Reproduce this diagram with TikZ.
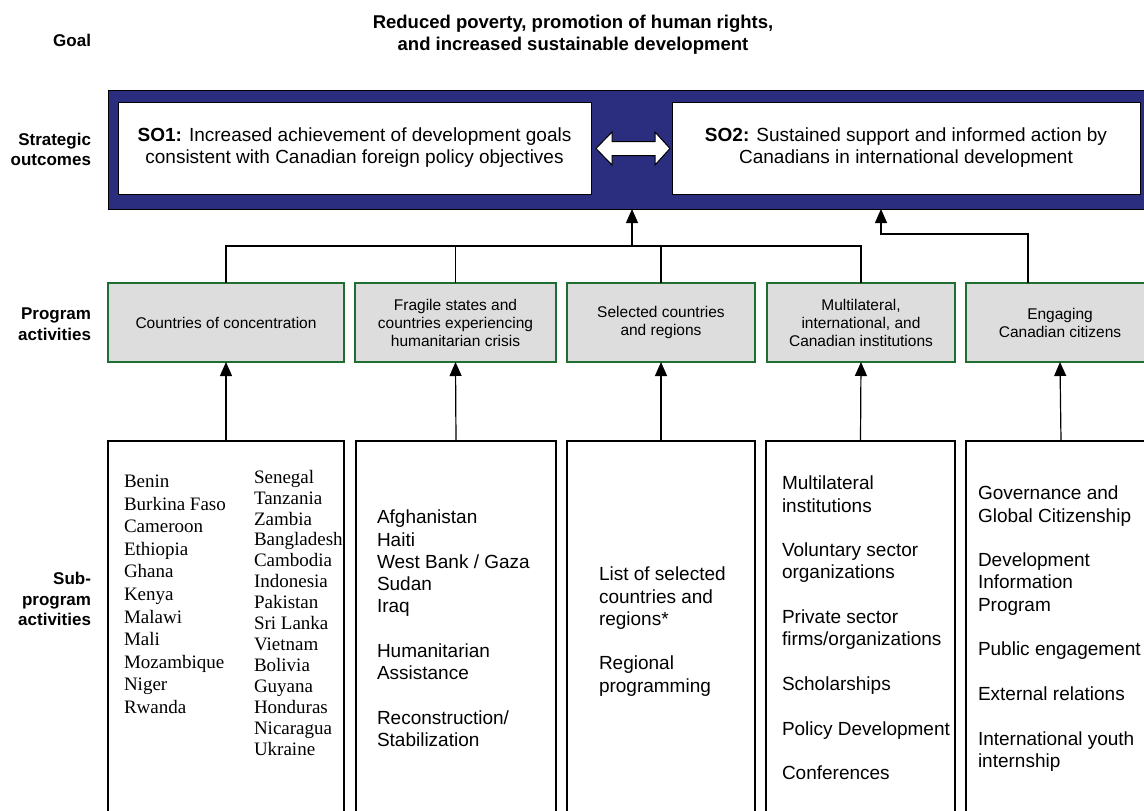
\documentclass[tikz,border=0pt]{standalone}
\usepackage{fontspec}
\setmainfont{Liberation Sans}
\newfontfamily\timesfont{Liberation Serif}
\usetikzlibrary{arrows.meta,calc}
\definecolor{bandblue}{RGB}{43,46,126}
\definecolor{boxgreen}{RGB}{30,110,50}
\definecolor{boxgray}{RGB}{221,221,221}

\begin{document}
\begin{tikzpicture}[x=1pt,y=-1pt,
  every node/.style={inner sep=0pt, outer sep=0pt},
  lbl/.style={font=\fontsize{17}{20.5}\selectfont\bfseries, align=right, anchor=east},
  sobox/.style={draw=black, line width=1pt, fill=white, align=center,
    font=\fontsize{19}{22}\selectfont, minimum height=92pt},
  pabox/.style={draw=boxgreen, line width=1.2pt, fill=boxgray, align=center,
    font=\fontsize{15.5}{18}\selectfont, minimum height=79pt},
  spbox/.style={draw=black, line width=1.2pt, fill=white, minimum height=400pt},
  sptext/.style={align=left, anchor=north west, font=\fontsize{19}{22.3}\selectfont},
  cntext/.style={align=left, anchor=north west, font=\timesfont\fontsize{19}{22.6}\selectfont},
  link/.style={line width=1.2pt},
  arr/.style={link, -{Triangle[length=14pt,width=12pt]}},
]
\path[use as bounding box] (0,0) rectangle (1144,811);
\clip (0,0) rectangle (1144,811);

% goal
\node[font=\fontsize{18.5}{22}\selectfont\bfseries, align=center] (goal) at (573,35)
  {Reduced poverty, promotion of human rights,\\and increased sustainable development};

% row labels
\node[lbl] (lgoal) at (91,40) {Goal};
\node[lbl] (lso) at (91,149.5) {Strategic\\outcomes};
\node[lbl] (lpa) at (91,324) {Program\\activities};
\node[lbl] (lsp) at (91,599) {Sub-\\program\\activities};

% strategic outcomes band
\node[draw=black, line width=1pt, fill=bandblue, minimum width=1072pt, minimum height=119pt]
  (band) at (644,149.5) {};
\node[sobox, minimum width=473pt] (so1) at (354.5,148)
  {\textbf{SO1:} Increased achievement of development goals\\consistent with Canadian foreign policy objectives};
\node[sobox, minimum width=468pt] (so2) at (906,148)
  {\textbf{SO2:} Sustained support and informed action by\\Canadians in international development};
\draw[line width=1pt, fill=white] (596,148.5) -- (612,132) -- (612,141.5) -- (655,141.5) -- (655,132)
  -- (670,148.5) -- (655,165) -- (655,155.5) -- (612,155.5) -- (612,165) -- cycle;

% program activities
\node[pabox, minimum width=236pt] (pa1) at (226,322.5) {Countries of concentration};
\node[pabox, minimum width=201pt] (pa2) at (455.5,322.5) {Fragile states and\\countries experiencing\\humanitarian crisis};
\node[pabox, minimum width=188pt] (pa3) at (661,322.5) {Selected countries\\and regions};
\node[pabox, minimum width=188pt] (pa4) at (861,322.5) {Multilateral,\\international, and\\Canadian institutions};
\node[pabox, minimum width=188pt] (pa5) at (1060,322.5) {Engaging\\Canadian citizens};

% sub-program activities
\node[spbox, minimum width=236pt] (sb1) at (226,641) {};
\node[spbox, minimum width=200pt] (sb2) at (456,641) {};
\node[spbox, minimum width=188pt] (sb3) at (661,641) {};
\node[spbox, minimum width=189pt] (sb4) at (860.5,641) {};
\node[spbox, minimum width=190pt] (sb5) at (1061,641) {};

\node[cntext] (c1) at (124,475) {Benin\\Burkina Faso\\Cameroon\\Ethiopia\\Ghana\\Kenya\\Malawi\\Mali\\Mozambique\\Niger\\Rwanda};
\node[cntext, font=\timesfont\fontsize{19}{20.93}\selectfont] (c2) at (254,470)
  {Senegal\\Tanzania\\Zambia\\Bangladesh\\Cambodia\\Indonesia\\Pakistan\\Sri Lanka\\Vietnam\\Bolivia\\Guyana\\Honduras\\Nicaragua\\Ukraine};
\node[sptext] (t2) at (377,510)
  {Afghanistan\\Haiti\\West Bank / Gaza\\Sudan\\Iraq\\[22.3pt]Humanitarian\\Assistance\\[22.3pt]Reconstruction/\\Stabilization};
\node[sptext] (t3) at (599,567)
  {List of selected\\countries and\\regions*\\[22.3pt]Regional\\programming};
\node[sptext] (t4) at (782,476)
  {Multilateral\\institutions\\[22.3pt]Voluntary sector\\organizations\\[22.3pt]Private sector\\firms/organizations\\[22.3pt]Scholarships\\[22.3pt]Policy Development\\[22.3pt]Conferences};
\node[sptext] (t5) at (978,486)
  {Governance and\\Global Citizenship\\[22.3pt]Development\\Information\\Program\\[22.3pt]Public engagement\\[22.3pt]External relations\\[22.3pt]International youth\\internship};

% links from program activities to SO1
\coordinate (bus) at (0,246);
\coordinate (hub) at (632,246);
\draw[link] (pa1.north) -- (pa1.north |- bus) -- (pa4.north |- bus) -- (pa4.north);
\draw[link] (pa2.north) -- (pa2.north |- bus);
\draw[link] (pa3.north) -- (pa3.north |- bus);
\draw[arr] (hub) -- (hub |- band.south);

% link from citizens engagement to SO2
\coordinate (elbow) at (881,234);
\draw[arr] ([xshift=-32pt]pa5.north) |- (elbow) -- (elbow |- band.south);

% sub-program activities feed program activities
\draw[arr] (sb1.north) -- (pa1.south);
\draw[arr] (sb2.north) -- (pa2.south);
\draw[arr] (sb3.north) -- (pa3.south);
\draw[arr] (sb4.north) -- (pa4.south);
\draw[arr] (sb5.north) -- (pa5.south);
\end{tikzpicture}
\end{document}
